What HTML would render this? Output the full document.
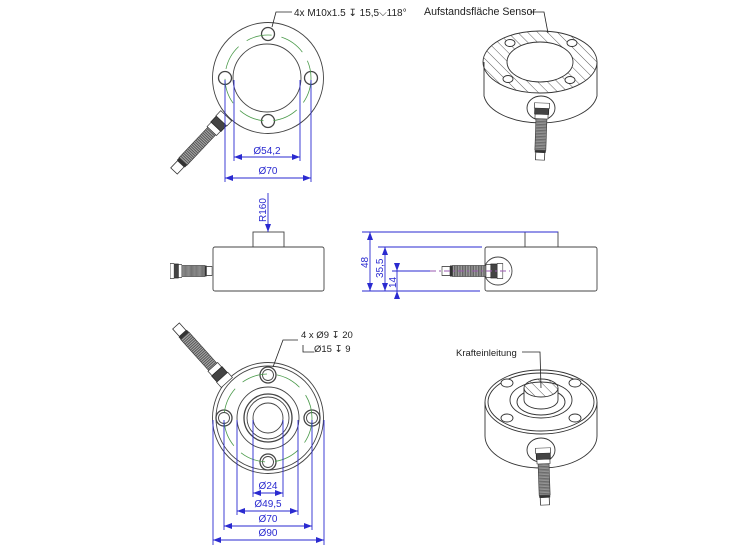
<!DOCTYPE html>
<html><head><meta charset="utf-8"><style>
html,body{margin:0;padding:0;background:#fff;width:752px;height:550px;overflow:hidden}
text{font-family:"Liberation Sans",sans-serif}
</style></head><body>
<svg width="752" height="550" viewBox="0 0 752 550" xmlns="http://www.w3.org/2000/svg">
<defs>
<pattern id="thr" width="2" height="2" patternUnits="userSpaceOnUse"><rect width="2" height="2" fill="#555"/><rect width="1" height="2" fill="#aaa"/></pattern>
<pattern id="hat" width="7" height="7" patternUnits="userSpaceOnUse" patternTransform="rotate(-45)"><line x1="0" y1="0" x2="0" y2="7" stroke="#333" stroke-width="0.8"/></pattern>
<g id="cable">
<rect x="0" y="-4.5" width="10" height="9" fill="#fff" stroke="#333" stroke-width="0.8"/>
<rect x="10" y="-5.5" width="3" height="11" fill="#333"/>
<rect x="13" y="-5.5" width="42" height="11" fill="url(#thr)" stroke="#333" stroke-width="0.6"/>
<rect x="55" y="-6.5" width="6" height="13" fill="#fff" stroke="#333" stroke-width="0.7"/>
<rect x="61" y="-7" width="8" height="14" fill="#444" stroke="#222" stroke-width="0.7"/>
<rect x="69" y="-7.5" width="7" height="15" fill="#fff" stroke="#333" stroke-width="0.7"/>
</g>
<marker id="ar" markerWidth="8" markerHeight="6" refX="8" refY="3" orient="auto-start-reverse" markerUnits="userSpaceOnUse"><path d="M0,0 L8,3 L0,6z" fill="#2a2ad0"/></marker>
</defs>

<!-- ===== TOP VIEW ===== -->
<g fill="none" stroke="#444" stroke-width="0.9">
<circle cx="268" cy="78" r="55.5"/>
<circle cx="267" cy="78" r="34"/>
<circle cx="268" cy="34" r="6.5" stroke-width="1.3"/>
<circle cx="225" cy="78" r="6.5" stroke-width="1.3"/>
<circle cx="311" cy="78" r="6.5" stroke-width="1.3"/>
<circle cx="268" cy="121" r="6.5" stroke-width="1.3"/>
</g>
<g fill="none" stroke="#4a9a4a" stroke-width="0.8" stroke-dasharray="26 10">
<circle cx="268" cy="78" r="43"/>
</g>
<use href="#cable" transform="translate(174,171) rotate(-46.6)"/>
<g stroke="#2a2ad0" stroke-width="0.9" fill="none">
<line x1="225" y1="80" x2="225" y2="182"/>
<line x1="311" y1="80" x2="311" y2="182"/>
<line x1="234" y1="80" x2="234" y2="161"/>
<line x1="300" y1="80" x2="300" y2="161"/>
<line x1="234" y1="157" x2="300" y2="157" marker-start="url(#ar)" marker-end="url(#ar)"/>
<line x1="225" y1="178" x2="311" y2="178" marker-start="url(#ar)" marker-end="url(#ar)"/>
</g>
<g fill="#2a2ad0" font-size="10" text-anchor="middle">
<text x="267" y="154">Ø54,2</text>
<text x="268" y="174">Ø70</text>
</g>
<polyline points="272,27 276,12 292,12" fill="none" stroke="#222" stroke-width="0.8"/>
<text x="294" y="16" font-size="10" fill="#222">4x M10x1.5 ↧ 15,5⌵118°</text>

<!-- ===== ISO TOP RIGHT ===== -->
<g stroke="#333" stroke-width="0.9">
<path d="M484,62 L484,96 A57,31 0 0 0 597,96 L597,62" fill="#fff"/>
<ellipse cx="540" cy="62" rx="57" ry="31" fill="url(#hat)"/>
<ellipse cx="540" cy="62" rx="33" ry="20" fill="#fff"/>
<ellipse cx="510" cy="43" rx="5" ry="3.5" fill="#fff"/>
<ellipse cx="572" cy="43" rx="5" ry="3.5" fill="#fff"/>
<ellipse cx="508" cy="79" rx="5" ry="3.5" fill="#fff"/>
<ellipse cx="570" cy="80" rx="5" ry="3.5" fill="#fff"/>
<ellipse cx="541" cy="108" rx="14" ry="12" fill="#fff"/>
</g>
<use href="#cable" transform="translate(540,160) rotate(-88) scale(0.75,1)"/>
<polyline points="548,33 544,12 530,12" fill="none" stroke="#222" stroke-width="0.8"/>
<text x="424" y="15" font-size="10.6" fill="#222">Aufstandsfläche Sensor</text>

<!-- ===== SIDE VIEW LEFT ===== -->
<g fill="#fff" stroke="#444" stroke-width="0.9">
<rect x="253" y="232" width="31" height="15"/>
<rect x="213" y="247" width="111" height="44" rx="2"/>
</g>
<use href="#cable" transform="translate(212,271) rotate(180) scale(0.55,1)"/>
<line x1="268" y1="193" x2="268" y2="232" stroke="#2a2ad0" stroke-width="0.9" marker-end="url(#ar)"/>
<text transform="translate(266,222) rotate(-90)" font-size="10" fill="#2a2ad0">R160</text>

<!-- ===== SIDE VIEW RIGHT ===== -->
<g fill="#fff" stroke="#444" stroke-width="0.9">
<rect x="525" y="232" width="33" height="15"/>
<rect x="485" y="247" width="112" height="44" rx="2"/>
<circle cx="498" cy="271" r="14"/>
</g>
<use href="#cable" transform="translate(442,271) scale(0.8,1)"/>
<g stroke="#2a2ad0" stroke-width="0.9" fill="none">
<line x1="362" y1="232" x2="558" y2="232"/>
<line x1="378" y1="247" x2="482" y2="247"/>
<line x1="362" y1="291" x2="480" y2="291"/>
<line x1="392" y1="271" x2="430" y2="271"/>
<line x1="430" y1="271" x2="510" y2="271" stroke="#9a5ab0" stroke-dasharray="6 3 2 3"/>
<line x1="370" y1="232" x2="370" y2="291" marker-start="url(#ar)" marker-end="url(#ar)"/>
<line x1="385" y1="247" x2="385" y2="291" marker-start="url(#ar)" marker-end="url(#ar)"/>
<line x1="397" y1="265" x2="397" y2="271" marker-end="url(#ar)"/>
<line x1="397" y1="299" x2="397" y2="291" marker-end="url(#ar)"/>
<line x1="397" y1="271" x2="397" y2="291"/>
</g>
<g fill="#2a2ad0" font-size="10">
<text transform="translate(368,268) rotate(-90)">48</text>
<text transform="translate(383,278) rotate(-90)">35,5</text>
<text transform="translate(396,288) rotate(-90)">14</text>
</g>

<!-- ===== BOTTOM VIEW ===== -->
<g fill="none" stroke="#444" stroke-width="0.9">
<circle cx="268" cy="418" r="55.5"/>
<circle cx="268" cy="418" r="52"/>
<circle cx="268" cy="418" r="31"/>
<circle cx="268" cy="418" r="24" stroke-width="1.3"/>
<circle cx="268" cy="418" r="21"/>
<circle cx="268" cy="418" r="15"/>
<g stroke-width="1.3">
<circle cx="268" cy="375" r="8"/><circle cx="224" cy="418" r="8"/>
<circle cx="312" cy="418" r="8"/><circle cx="268" cy="462" r="8"/>
</g>
<circle cx="268" cy="375" r="5.5"/><circle cx="224" cy="418" r="5.5"/>
<circle cx="312" cy="418" r="5.5"/><circle cx="268" cy="462" r="5.5"/>
</g>
<circle cx="268" cy="418" r="44" fill="none" stroke="#4a9a4a" stroke-width="0.8" stroke-dasharray="26 10"/>
<use href="#cable" transform="translate(176,326) rotate(48)"/>
<g stroke="#2a2ad0" stroke-width="0.9" fill="none">
<line x1="213" y1="420" x2="213" y2="545"/>
<line x1="324" y1="420" x2="324" y2="545"/>
<line x1="224" y1="420" x2="224" y2="530"/>
<line x1="312" y1="420" x2="312" y2="530"/>
<line x1="237" y1="420" x2="237" y2="515"/>
<line x1="298" y1="420" x2="298" y2="515"/>
<line x1="253" y1="420" x2="253" y2="497"/>
<line x1="283" y1="420" x2="283" y2="497"/>
<line x1="253" y1="493" x2="283" y2="493" marker-start="url(#ar)" marker-end="url(#ar)"/>
<line x1="237" y1="511" x2="298" y2="511" marker-start="url(#ar)" marker-end="url(#ar)"/>
<line x1="224" y1="526" x2="312" y2="526" marker-start="url(#ar)" marker-end="url(#ar)"/>
<line x1="213" y1="540" x2="324" y2="540" marker-start="url(#ar)" marker-end="url(#ar)"/>
</g>
<g fill="#2a2ad0" font-size="10" text-anchor="middle">
<text x="268" y="489">Ø24</text>
<text x="268" y="507">Ø49,5</text>
<text x="268" y="522">Ø70</text>
<text x="268" y="536">Ø90</text>
</g>
<polyline points="273,367 283,340 298,340" fill="none" stroke="#222" stroke-width="0.8"/>
<text x="301" y="338" font-size="9.5" fill="#222">4 x Ø9 ↧ 20</text>
<polyline points="303,345 303,352 314,352" fill="none" stroke="#222" stroke-width="0.8"/>
<text x="314" y="352" font-size="9.5" fill="#222">Ø15 ↧ 9</text>

<!-- ===== ISO BOTTOM RIGHT ===== -->
<g stroke="#333" stroke-width="0.9" fill="#fff">
<path d="M485,402 L485,436 A56,32 0 0 0 597,436 L597,402"/>
<ellipse cx="541" cy="402" rx="56" ry="32"/>
<ellipse cx="541" cy="402" rx="53" ry="29" fill="none"/>
<ellipse cx="507" cy="383" rx="6" ry="4"/>
<ellipse cx="575" cy="383" rx="6" ry="4"/>
<ellipse cx="507" cy="418" rx="6" ry="4"/>
<ellipse cx="575" cy="418" rx="6" ry="4"/>
<ellipse cx="541" cy="400" rx="31" ry="18"/>
<ellipse cx="541" cy="402" rx="24" ry="13"/>
<path d="M524,388 L524,400 A17,9 0 0 0 558,400 L558,388"/>
<ellipse cx="541" cy="388" rx="17" ry="9" fill="url(#hat)"/>
<ellipse cx="541" cy="450" rx="14" ry="12"/>
</g>
<use href="#cable" transform="translate(545,505) rotate(-92) scale(0.75,1)"/>
<polyline points="541,388 540,352 522,352" fill="none" stroke="#222" stroke-width="0.8"/>
<text x="456" y="356" font-size="9.5" fill="#222">Krafteinleitung</text>
</svg>
</body></html>
